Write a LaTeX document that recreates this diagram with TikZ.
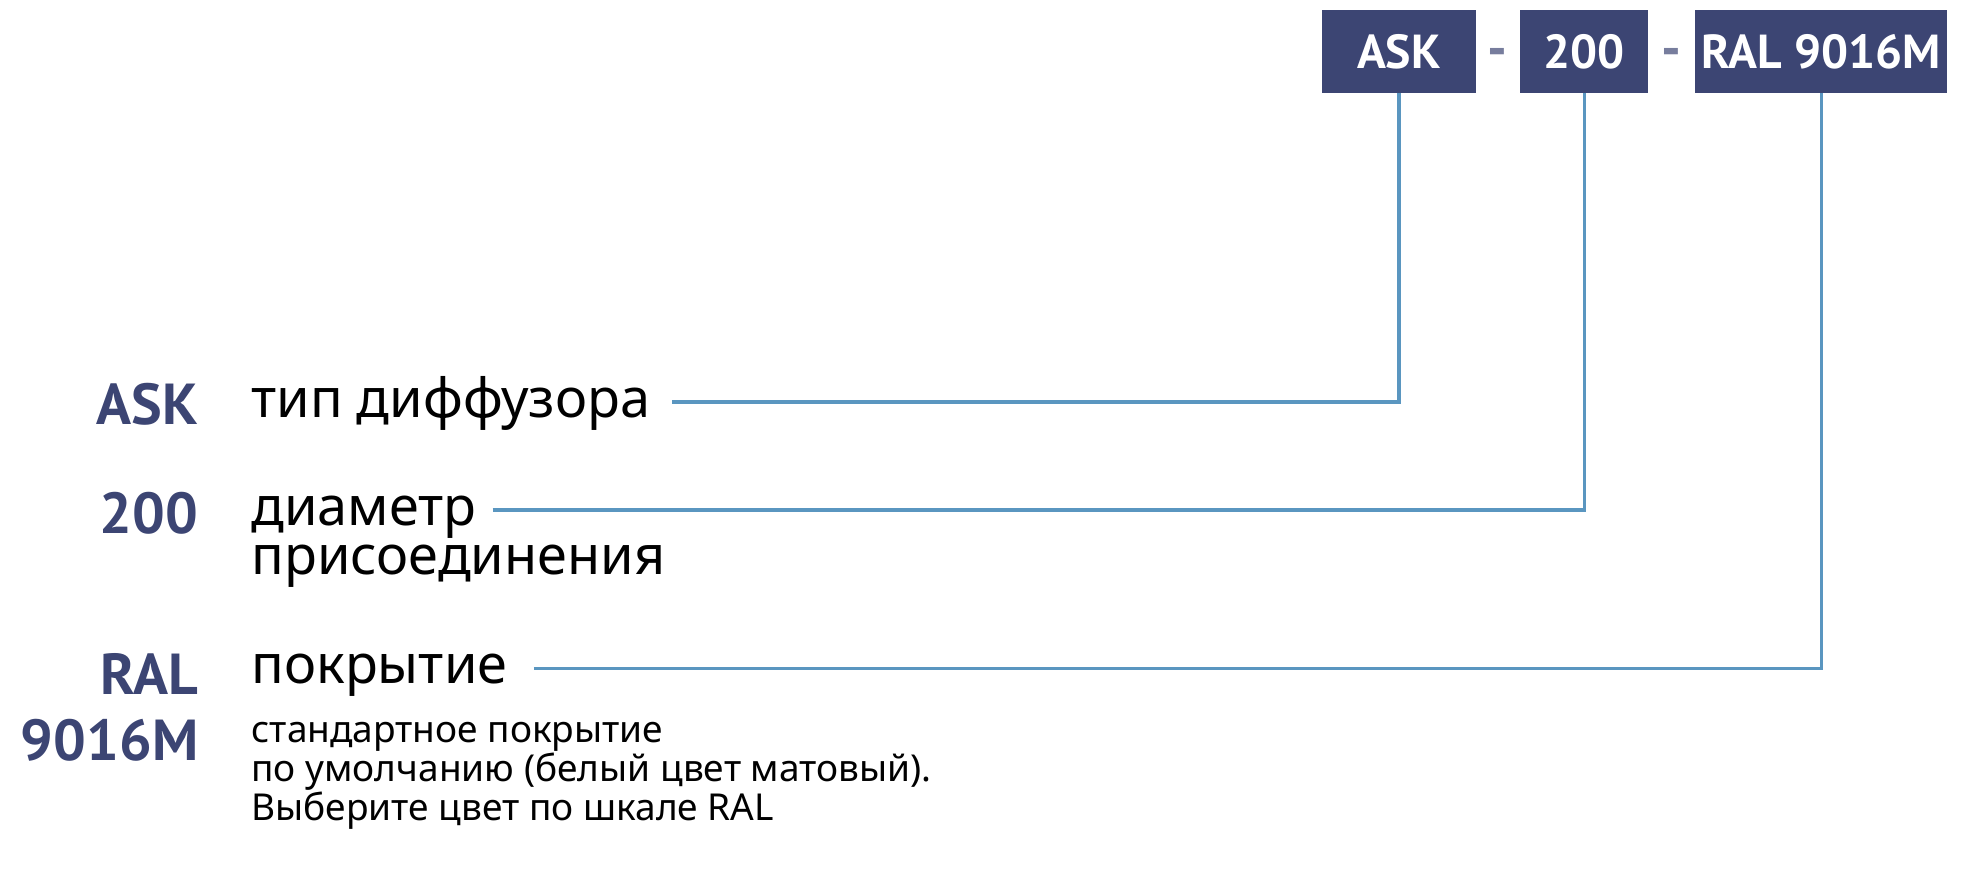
\documentclass[tikz,border=0pt]{standalone}
\usepackage{fontspec}
\setmainfont{Noto Sans}
\newfontfamily\labfont{PT Sans}
\definecolor{navy}{RGB}{60,69,115}
\definecolor{steel}{RGB}{90,150,192}
\begin{document}
\begin{tikzpicture}[x=1pt,y=-1pt,
  codebox/.style={fill=navy,text=white,inner sep=0pt,font=\labfont\bfseries\fontsize{38}{40}\selectfont},
  leftlab/.style={anchor=base east,text=navy,inner sep=0pt,font=\labfont\bfseries\fontsize{46}{48}\selectfont},
  bigtxt/.style={anchor=base west,inner sep=0pt,font=\fontsize{43}{46}\selectfont},
  smalltxt/.style={anchor=base west,inner sep=0pt,font=\fontsize{29.5}{32}\selectfont},
  dashlab/.style={text=navy!70,inner sep=0pt,font=\labfont\bfseries\fontsize{44}{46}\selectfont},
  conn/.style={draw=steel,line width=2.6pt}]
\useasboundingbox (0,0) rectangle (1568,701);
% code boxes
\node[codebox,minimum width=123pt,minimum height=66pt] (ask) at (1113.5,41) {ASK};
\node[dashlab] (d1) at (1192,46) {-};
\node[codebox,minimum width=102pt,minimum height=66pt] (dia) at (1261,41) {200};
\node[dashlab] (d2) at (1330,46) {-};
\node[codebox,minimum width=201pt,minimum height=66pt] (ral) at (1449.5,41) {RAL 9016M};
% left labels
\node[leftlab] (lask) at (158,338) {ASK};
\node[leftlab] (l200) at (158,425) {200};
\node[leftlab] (lral) at (158,553) {RAL};
\node[leftlab] (l9016) at (158,605) {9016M};
% descriptions
\node[bigtxt] (t1) at (200,332) {тип диффузора};
\node[bigtxt] (t2) at (200,418) {диаметр};
\node[bigtxt] (t2b) at (200,457) {присоединения};
\node[bigtxt] (t3) at (200,544) {покрытие};
\node[smalltxt] (s1) at (200,591) {стандартное покрытие};
\node[smalltxt] (s2) at (200,622) {по умолчанию (белый цвет матовый).};
\node[smalltxt] (s3) at (200,653) {Выберите цвет по шкале RAL};
% connectors
\coordinate (c1) at (535,320);
\coordinate (c2) at (392,406);
\coordinate (c3) at (425,532);
\draw[conn] (c1) -| (ask.south);
\draw[conn] (c2) -| (dia.south);
\draw[conn] (c3) -| (ral.south);
\end{tikzpicture}
\end{document}
